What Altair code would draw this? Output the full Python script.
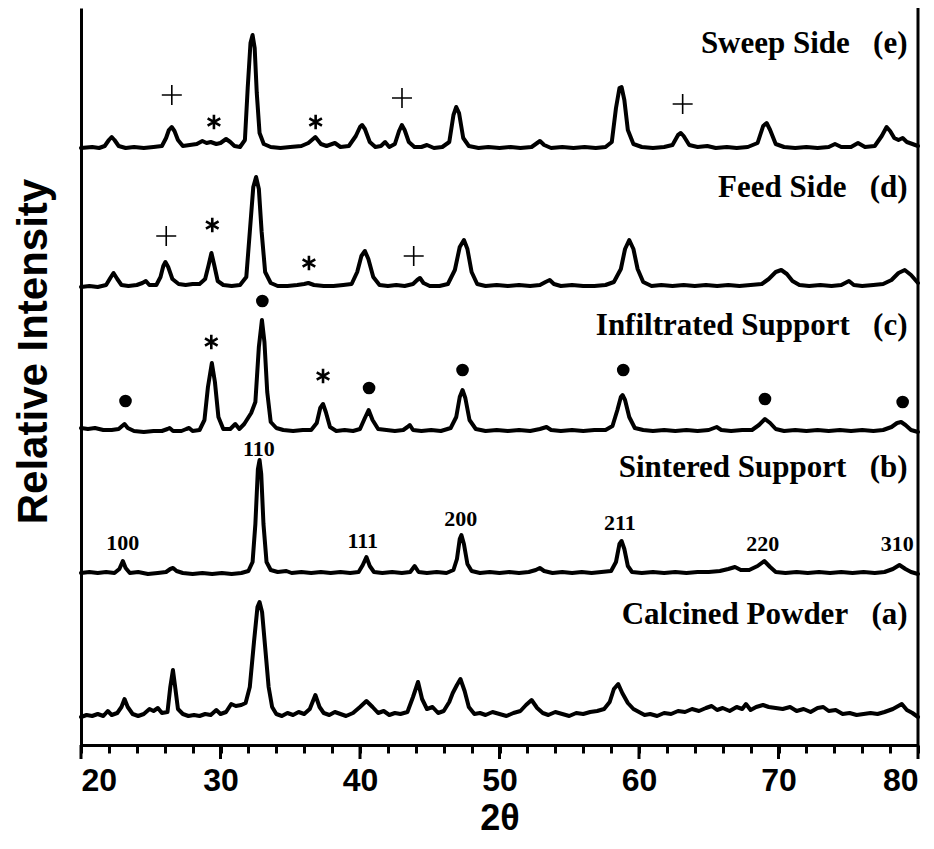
import altair as alt
import pandas as pd

# ---------------- data ----------------
SERIES = ["Sweep Side", "Feed Side", "Infiltrated Support", "Sintered Support", "Calcined Powder"]
TAGS = ["(e)", "(d)", "(c)", "(b)", "(a)"]
OFFSETS = [597, 458, 313, 171, 28]          # vertical offset of each pattern
LABEL_Y = [692, 548, 410, 268, 121]         # baseline height of each pattern name
LABEL_X = 79.25

SWEEP = [(20.0,0),(20.8,1),(21.3,0),(21.7,2),(22.0,8),(22.2,11),(22.4,8),(22.7,2),(23.2,0),(23.8,1),(24.5,0),(25.2,1),(25.8,2),(26.1,10),(26.3,18),(26.5,21),(26.7,17),(26.95,8),(27.3,2),(27.8,3),(28.3,4),(28.7,7),(29.0,5),(29.3,6),(29.7,4),(30.0,5),(30.4,9),(30.7,6),(31.0,2),(31.4,1),(31.75,8),(31.95,60),(32.15,105),(32.3,113),(32.45,100),(32.6,55),(32.8,15),(33.1,4),(33.6,1),(34.3,0),(35.0,1),(35.8,2),(36.3,5),(36.8,11),(37.2,4),(37.6,2),(38.2,5),(38.6,1),(39.2,2),(39.7,12),(40.0,21),(40.15,23),(40.35,19),(40.7,6),(41.1,1),(41.5,2),(41.8,6),(42.1,1),(42.5,4),(42.8,17),(43.0,23),(43.2,18),(43.5,6),(43.9,1),(44.4,1),(44.8,3),(45.3,0),(45.9,1),(46.4,6),(46.7,33),(46.9,41),(47.1,35),(47.4,10),(47.8,2),(48.5,0),(49.2,1),(50.0,0),(50.8,1),(51.5,0),(52.3,1),(52.7,5),(52.9,7),(53.2,3),(53.7,0),(54.5,1),(55.3,0),(56.1,1),(56.9,0),(57.6,1),(58.05,6),(58.35,40),(58.6,60),(58.75,61),(58.95,48),(59.2,18),(59.6,4),(60.2,1),(61.0,0),(61.8,1),(62.4,3),(62.8,13),(63.0,15),(63.2,12),(63.6,3),(64.2,1),(64.9,2),(65.5,0),(66.3,1),(67.0,0),(67.8,1),(68.5,5),(68.9,22),(69.15,25),(69.4,18),(69.8,4),(70.4,1),(71.2,0),(72.0,1),(72.8,0),(73.6,1),(74.05,4),(74.5,1),(75.2,1),(75.7,5),(76.2,1),(76.9,2),(77.4,12),(77.75,21),(78.0,17),(78.3,10),(78.6,8),(78.9,10),(79.2,6),(79.6,4),(80.0,2)]

FEED = [(20.0,0),(20.6,1),(21.2,0),(21.8,2),(22.1,9),(22.33,14),(22.6,8),(22.9,2),(23.4,1),(24.0,2),(24.4,4),(24.65,6),(24.9,2),(25.4,2),(25.7,10),(25.9,21),(26.05,25),(26.25,20),(26.55,8),(27.0,3),(27.5,2),(28.0,3),(28.5,3),(28.9,8),(29.15,22),(29.35,34),(29.55,22),(29.8,6),(30.2,2),(30.8,1),(31.4,2),(31.85,10),(32.1,55),(32.35,100),(32.55,110),(32.75,98),(32.95,55),(33.2,15),(33.6,4),(34.1,1),(34.8,1),(35.5,2),(36.0,3),(36.3,4),(36.7,2),(37.4,1),(38.1,1),(38.8,2),(39.4,3),(39.8,15),(40.1,31),(40.35,36),(40.6,28),(40.95,10),(41.4,2),(42.0,1),(42.6,2),(43.2,1),(43.8,3),(44.1,7),(44.3,9),(44.55,4),(45.0,1),(45.7,1),(46.3,3),(46.8,17),(47.15,40),(47.45,47),(47.7,38),(48.0,15),(48.4,3),(49.0,1),(49.8,2),(50.6,1),(51.4,2),(52.2,1),(52.9,2),(53.3,5),(53.6,7),(53.9,3),(54.4,1),(55.2,2),(56.0,1),(56.8,1),(57.6,2),(58.2,5),(58.7,18),(59.0,38),(59.3,47),(59.6,38),(59.9,18),(60.3,5),(60.9,1),(61.6,2),(62.4,1),(63.2,2),(64.0,1),(64.8,2),(65.6,1),(66.4,2),(67.2,1),(68.0,2),(68.8,3),(69.3,8),(69.8,15),(70.2,17),(70.6,13),(71.0,6),(71.5,2),(72.2,1),(73.0,2),(73.8,1),(74.5,2),(75.05,6),(75.4,2),(76.0,1),(76.8,2),(77.5,3),(78.1,7),(78.6,14),(79.05,17),(79.5,12),(80.0,4)]

INFILTRATED = [(20.0,4),(20.5,3),(21.0,4),(21.6,2),(22.2,2),(22.7,3),(22.95,6),(23.12,8),(23.35,4),(23.8,1),(24.5,0),(25.2,1),(25.8,1),(26.2,3),(26.35,4),(26.6,1),(27.2,1),(27.55,3),(27.75,4),(28.0,1),(28.5,2),(28.85,12),(29.1,45),(29.38,69),(29.6,50),(29.85,15),(30.2,3),(30.7,3),(31.06,8),(31.35,3),(31.7,8),(32.2,19),(32.5,30),(32.75,85),(32.97,112),(33.15,90),(33.35,40),(33.6,10),(34.0,4),(34.5,2),(35.2,1),(35.9,2),(36.5,2),(36.9,9),(37.15,24),(37.35,28),(37.55,20),(37.85,5),(38.3,1),(38.9,2),(39.5,1),(40.0,3),(40.35,14),(40.62,22),(40.9,12),(41.3,3),(41.9,2),(42.5,1),(43.1,2),(43.4,5),(43.57,7),(43.8,2),(44.4,1),(45.1,2),(45.8,1),(46.5,4),(46.9,15),(47.15,35),(47.35,42),(47.55,34),(47.85,12),(48.3,3),(49.0,1),(49.8,2),(50.6,1),(51.4,2),(52.2,1),(52.9,3),(53.37,5),(53.7,2),(54.4,1),(55.2,2),(56.0,1),(56.8,2),(57.6,2),(58.1,6),(58.45,22),(58.7,35),(58.82,37),(59.0,32),(59.3,15),(59.7,4),(60.3,2),(61.0,1),(61.8,2),(62.6,1),(63.4,2),(64.2,1),(65.0,2),(65.57,5),(65.9,2),(66.6,1),(67.4,2),(68.1,2),(68.6,7),(69.03,13),(69.4,9),(69.8,3),(70.4,1),(71.2,2),(72.0,1),(72.8,2),(73.6,1),(74.4,2),(75.2,1),(76.0,2),(76.8,1),(77.5,2),(78.1,5),(78.5,9),(78.79,10),(79.1,7),(79.5,2),(80.0,0)]

SINTERED = [(20.0,1),(20.6,2),(21.2,1),(21.8,2),(22.4,1),(22.75,5),(23.0,13),(23.2,6),(23.5,1),(24.1,2),(24.8,0),(25.5,1),(26.1,2),(26.4,5),(26.6,6),(26.85,3),(27.3,1),(28.0,0),(28.7,1),(29.4,0),(30.1,1),(30.8,0),(31.5,1),(32.0,3),(32.3,12),(32.5,50),(32.68,105),(32.8,114),(32.92,100),(33.08,50),(33.3,12),(33.6,4),(34.1,2),(34.72,3),(35.1,1),(35.8,2),(36.5,1),(37.2,2),(37.9,1),(38.6,2),(39.3,1),(39.9,2),(40.2,9),(40.46,17),(40.7,8),(41.0,2),(41.6,1),(42.3,2),(43.0,1),(43.6,2),(43.92,8),(44.2,2),(44.8,1),(45.5,2),(46.2,1),(46.7,4),(46.95,15),(47.15,35),(47.27,39),(47.45,30),(47.7,10),(48.0,3),(48.6,1),(49.3,2),(50.0,1),(50.7,2),(51.4,1),(52.1,2),(52.6,4),(52.89,6),(53.2,3),(53.8,1),(54.5,2),(55.2,1),(55.9,2),(56.6,1),(57.3,2),(58.0,3),(58.35,12),(58.6,30),(58.75,33),(58.95,25),(59.2,8),(59.5,2),(60.2,1),(61.0,2),(61.8,1),(62.6,2),(63.4,1),(64.2,2),(65.0,2),(65.8,3),(66.4,5),(66.88,7),(67.3,4),(67.9,4),(68.5,8),(68.98,13),(69.4,7),(69.8,2),(70.5,1),(71.3,2),(72.1,1),(72.9,2),(73.7,1),(74.5,2),(75.3,1),(76.1,2),(76.9,1),(77.6,2),(78.2,5),(78.67,9),(79.1,5),(79.5,2),(80.0,0)]

CALCINED = [(20.0,0),(20.4,2),(20.8,1),(21.2,3),(21.6,1),(21.92,6),(22.2,2),(22.6,4),(22.9,10),(23.12,18),(23.35,10),(23.7,3),(24.1,1),(24.5,3),(24.91,8),(25.2,6),(25.51,9),(25.8,4),(26.2,5),(26.4,30),(26.59,47),(26.75,30),(26.95,8),(27.3,3),(27.7,1),(28.1,2),(28.5,1),(28.9,3),(29.3,2),(29.7,7),(30.0,3),(30.4,5),(30.77,13),(31.1,11),(31.49,12),(31.8,14),(32.1,30),(32.4,75),(32.65,110),(32.8,115),(32.98,105),(33.2,70),(33.45,30),(33.7,10),(34.0,3),(34.4,1),(34.8,4),(35.2,2),(35.6,5),(36.0,3),(36.4,8),(36.8,22),(37.1,10),(37.4,4),(37.8,2),(38.2,5),(38.6,3),(39.0,1),(39.5,4),(40.0,10),(40.46,16),(40.9,10),(41.3,4),(41.7,6),(42.1,2),(42.5,4),(42.9,3),(43.4,5),(43.8,20),(44.16,35),(44.45,18),(44.8,8),(45.2,10),(45.6,4),(46.0,6),(46.4,15),(46.65,24),(46.95,32),(47.2,38),(47.5,26),(47.8,10),(48.2,3),(48.6,4),(49.0,2),(49.5,5),(50.0,3),(50.5,1),(51.0,4),(51.5,6),(51.9,12),(52.3,17),(52.7,9),(53.1,4),(53.5,2),(54.0,5),(54.5,3),(55.0,1),(55.5,4),(56.0,3),(56.5,5),(57.0,6),(57.5,8),(57.9,15),(58.2,28),(58.51,33),(58.8,24),(59.2,14),(59.6,8),(60.0,5),(60.4,2),(60.8,3),(61.3,1),(61.8,4),(62.3,3),(62.8,6),(63.3,5),(63.8,8),(64.3,6),(64.8,9),(65.21,11),(65.6,7),(66.0,9),(66.5,6),(67.0,10),(67.4,8),(67.67,13),(68.0,7),(68.4,10),(68.89,12),(69.3,10),(69.8,9),(70.3,8),(70.83,10),(71.3,6),(71.8,8),(72.3,5),(72.8,9),(73.21,10),(73.6,6),(74.1,7),(74.6,3),(75.1,4),(75.6,2),(76.1,3),(76.6,4),(77.1,3),(77.6,5),(78.2,8),(78.84,13),(79.2,7),(79.6,4),(80.0,0)]

# peak markers (2theta, height)
PLUS_MARKS = [(26.51,650),(43.01,647),(63.13,641),(26.11,509),(43.85,489)]
STAR_MARKS = [(29.53,623),(36.82,623),(29.41,520),(36.34,482),(29.34,403),(37.35,369)]
DOT_MARKS = [(23.19,344),(33.0,444),(40.65,357),(47.35,375),(58.87,375),(69.03,346),(78.9,343)]

# Miller indices on the sintered support pattern
HKL_TEXT = ["100", "110", "111", "200", "211", "220", "310"]
HKL_X = [23.0, 32.75, 40.2, 47.22, 58.63, 68.87, 78.52]
HKL_Y = [195, 289, 197, 219, 215, 194, 194]

MAJOR_TICKS = [20, 30, 40, 50, 60, 70, 80]
MINOR_TICKS = [20,22,24,26,28,30,32,34,36,38,40,42,44,46,48,50,52,54,56,58,60,62,64,66,68,70,72,74,76,78,80]

# ---------------- tables ----------------
rows = []
for name, off, pts in zip(SERIES, OFFSETS, [SWEEP, FEED, INFILTRATED, SINTERED, CALCINED]):
    for t, v in pts:
        rows.append({"series": name, "t": t, "v": off + v})
lines_df = pd.DataFrame(rows)

labels_df = pd.DataFrame({
    "t": [LABEL_X] * len(SERIES),
    "v": LABEL_Y,
    "text": [s + "\u00a0\u00a0\u00a0" + g for s, g in zip(SERIES, TAGS)],
})
plus_df = pd.DataFrame(PLUS_MARKS, columns=["t", "v"])
star_df = pd.DataFrame(STAR_MARKS, columns=["t", "v"])
dot_df = pd.DataFrame(DOT_MARKS, columns=["t", "v"])
hkl_df = pd.DataFrame({"t": HKL_X, "v": HKL_Y, "text": HKL_TEXT})
major_df = pd.DataFrame({"t": MAJOR_TICKS})
border_df = pd.DataFrame({"t": [80]})

# ---------------- encodings ----------------
xscale = alt.Scale(domain=[20, 80], nice=False, zero=False)
yscale = alt.Scale(domain=[0, 737], nice=False, zero=False)

x_axis = alt.Axis(
    values=MINOR_TICKS,
    labelExpr="datum.value % 10 === 0 ? datum.label : ''",
    labelOverlap=False,
    tickSize=8, tickWidth=3, tickColor="black",
    domainWidth=3, domainColor="black",
    labelFont="Liberation Sans Narrow, Liberation Sans", labelFontSize=32,
    labelFontWeight="bold", labelColor="black", labelPadding=12,
    title="2θ", titleFont="Liberation Sans", titleFontSize=36,
    titleFontWeight="bold", titleColor="black", titlePadding=5,
    grid=False,
)
y_axis = alt.Axis(
    labels=False, ticks=False, grid=False,
    domainWidth=3, domainColor="black",
    title="Relative Intensity", titleFont="Liberation Sans", titleFontSize=42,
    titleFontWeight="bold", titleColor="black",
    titleX=-35, titleY=343, titleAngle=270, titleAlign="center",
    titleBaseline="alphabetic",
)

# every layer carries the same axis definitions so they merge cleanly
X = alt.X("t:Q", scale=xscale, axis=x_axis)
Y = alt.Y("v:Q", scale=yscale, axis=y_axis)

lines = alt.Chart(lines_df).mark_line(
    color="black", strokeWidth=4, strokeJoin="round", strokeCap="round"
).encode(x=X, y=Y, detail="series:N")

right_border = alt.Chart(border_df).mark_rule(
    color="black", strokeWidth=3
).encode(x=X)

major_ticks = alt.Chart(major_df).mark_rule(
    color="black", strokeWidth=3
).encode(x=X, y=alt.value(737), y2=alt.value(751))

names = alt.Chart(labels_df).mark_text(
    font="Liberation Serif", fontSize=31, fontWeight="bold", color="black",
    align="right", baseline="alphabetic"
).encode(x=X, y=Y, text="text:N")

hkl = alt.Chart(hkl_df).mark_text(
    font="Liberation Serif", fontSize=22, fontWeight="bold", color="black",
    align="center", baseline="alphabetic"
).encode(x=X, y=Y, text="text:N")

plus = alt.Chart(plus_df).mark_point(
    shape="M-1,0L1,0M0,-1L0,1", size=400, filled=False, color="black",
    strokeWidth=1.6, opacity=1
).encode(x=X, y=Y)

star = alt.Chart(star_df).mark_point(
    shape="M0,-1L0,1M-0.87,-0.5L0.87,0.5M-0.87,0.5L0.87,-0.5", size=210,
    filled=False, color="black", strokeWidth=2.6, opacity=1
).encode(x=X, y=Y)

dots = alt.Chart(dot_df).mark_point(
    shape="circle", size=160, filled=True, color="black", opacity=1
).encode(x=X, y=Y)

chart = alt.layer(lines, right_border, major_ticks, names, hkl, plus, star, dots).properties(
    width=837, height=737,
    autosize=alt.AutoSizeParams(type="none"),
    padding={"left": 73, "top": 0, "right": 8, "bottom": 96},
    background="white",
).configure_view(stroke=None)

chart.save("out.html", embed_options={"renderer": "svg", "actions": False})
